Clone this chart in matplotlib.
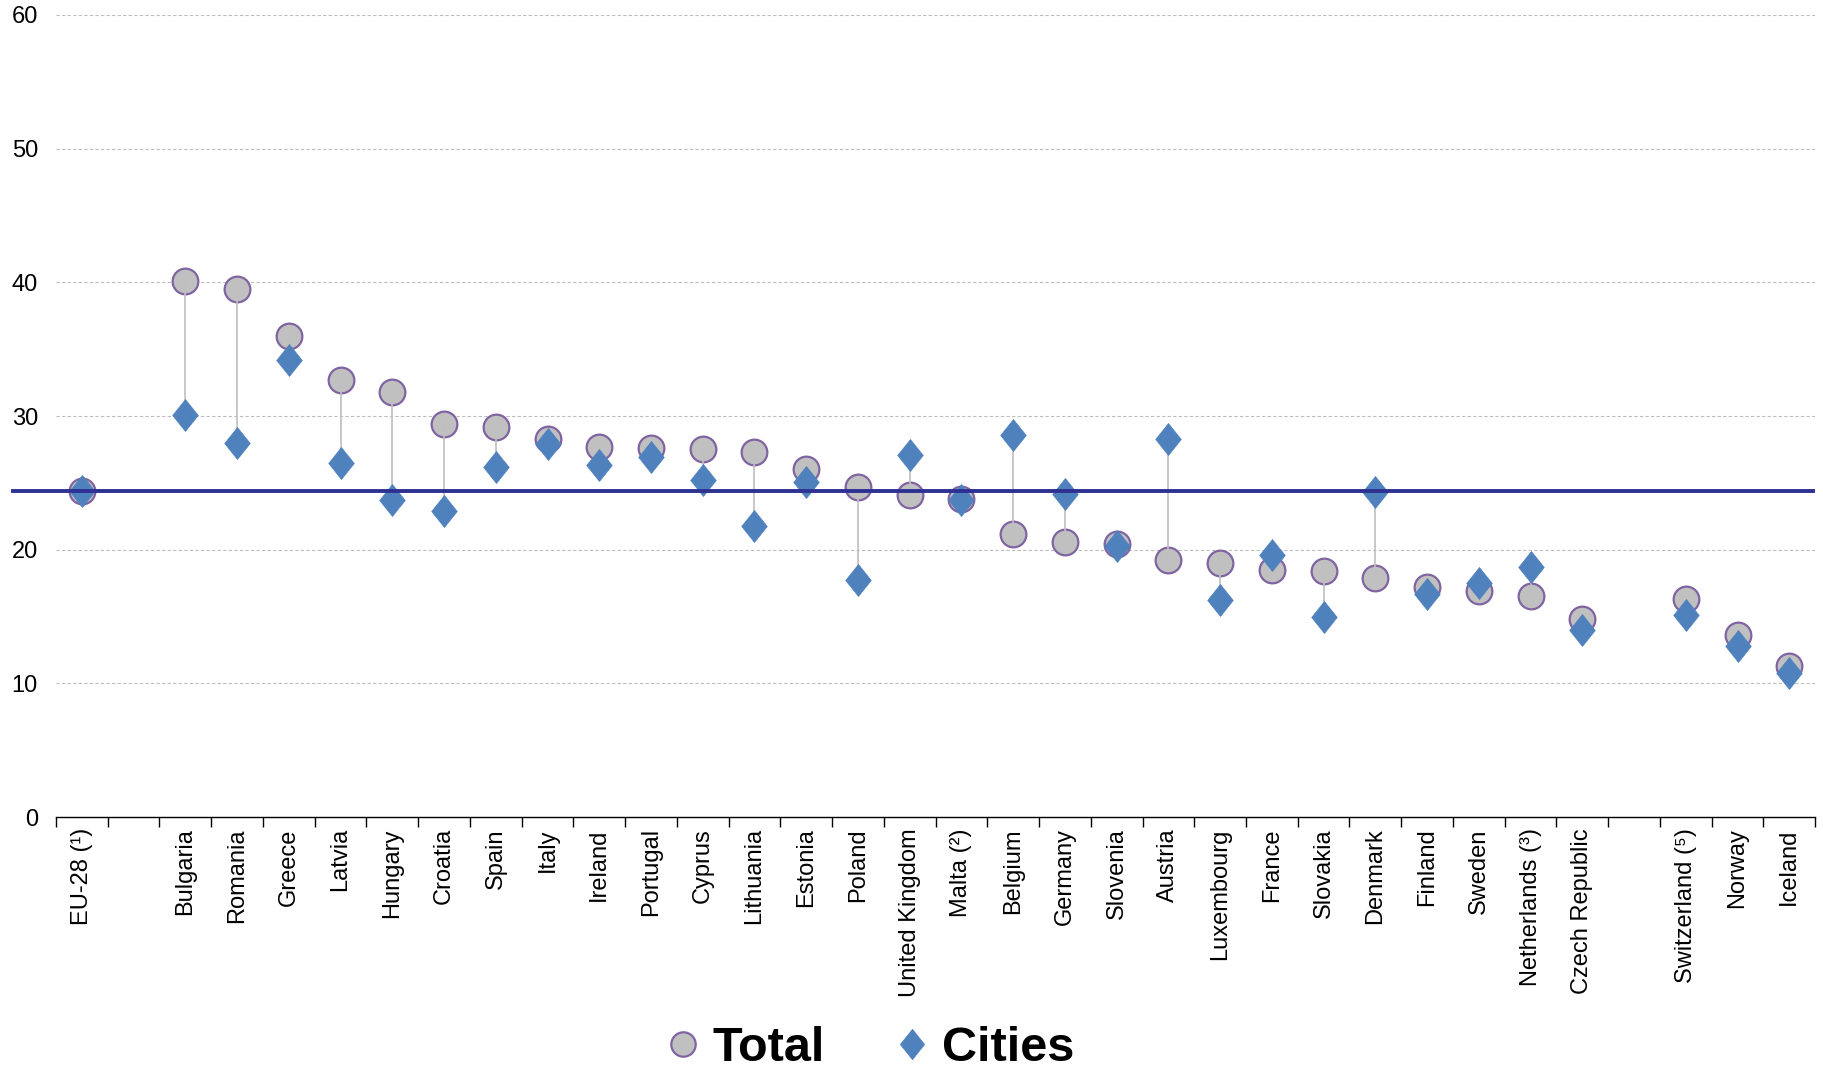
import numpy as np
import matplotlib
matplotlib.use('Agg')
from matplotlib import pyplot as plt

plt.rcParams['font.family'] = ['Liberation Sans', 'DejaVu Sans']

# '' marks an empty slot on the category axis
categories = ['EU-28 (¹)', '', 'Bulgaria', 'Romania', 'Greece', 'Latvia', 'Hungary', 'Croatia',
              'Spain', 'Italy', 'Ireland', 'Portugal', 'Cyprus', 'Lithuania', 'Estonia', 'Poland',
              'United Kingdom', 'Malta (²)', 'Belgium', 'Germany', 'Slovenia', 'Austria',
              'Luxembourg', 'France', 'Slovakia', 'Denmark', 'Finland', 'Sweden',
              'Netherlands (³)', 'Czech Republic', '', 'Switzerland (⁵)', 'Norway', 'Iceland']

total = [24.4, None, 40.1, 39.5, 36.0, 32.7, 31.8, 29.4, 29.2, 28.3, 27.7, 27.6, 27.5, 27.3,
         26.0, 24.7, 24.1, 23.8, 21.2, 20.6, 20.4, 19.2, 19.0, 18.5, 18.4, 17.9, 17.2, 16.9,
         16.5, 14.8, None, 16.3, 13.6, 11.3]

cities = [24.4, None, 30.1, 28.0, 34.2, 26.5, 23.7, 22.9, 26.2, 27.9, 26.3, 26.9, 25.2, 21.8,
          25.1, 17.7, 27.1, 23.7, 28.6, 24.2, 20.3, 28.3, 16.2, 19.6, 15.0, 24.3, 16.7, 17.5,
          18.7, 14.0, None, 15.1, 12.8, 10.8]

eu_average = 24.4

x = np.arange(len(categories))
tot = np.array([np.nan if v is None else v for v in total])
cit = np.array([np.nan if v is None else v for v in cities])
ok = ~np.isnan(tot)

fig = plt.figure(figsize=(18.23, 10.69), dpi=100)
ax = fig.add_axes([0.0307, 0.2357, 0.965, 0.7503])

ax.set_xlim(-0.5, len(categories) - 0.5)
ax.set_ylim(0, 60)

# gridlines
ax.set_yticks(np.arange(0, 61, 10))
for yv in range(10, 61, 10):
    ax.axhline(yv, color='#bdbdbd', lw=0.8, ls=(0, (3, 2)), zorder=0)

# markers
ax.plot(x[ok], tot[ok], ls='none', marker='o', ms=18.5, mfc='#c0c0c0', mec='#8064a2', mew=1.6,
        zorder=2, label='Total')
ax.vlines(x[ok], tot[ok], cit[ok], color='#bfbfbf', lw=1.2, zorder=3)
diamond = [(0, 1), (0.8, 0), (0, -1), (-0.8, 0), (0, 1)]
ax.plot(x[ok], cit[ok], ls='none', marker=diamond, ms=23, mfc='#4f81bd', mec='#4f81bd', mew=0.5,
        zorder=4, label='Cities')

# EU average line (starts a bit left of the axis, like the original)
ax.plot([-1.33, len(categories) - 0.55], [eu_average, eu_average], color='#2e3192', lw=2.8,
        zorder=5, clip_on=False)

# axes styling
for s in ['top', 'right', 'left']:
    ax.spines[s].set_visible(False)
ax.spines['bottom'].set_color('black')
ax.spines['bottom'].set_linewidth(1.0)
ax.tick_params(axis='y', length=0, labelsize=17, pad=13)
ax.set_xticks(x)
ax.set_xticklabels(categories, rotation=90, fontsize=17)
ax.tick_params(axis='x', length=0, pad=8)
ax.set_xticks(np.arange(-0.5, len(categories), 1), minor=True)
ax.tick_params(axis='x', which='minor', length=7, width=1, color='black')

fig.legend(loc='center', bbox_to_anchor=(0.478, 0.019), ncol=2, frameon=False,
           handlelength=0.6, handletextpad=0.3, columnspacing=1.5, markerscale=0.95,
           prop={'weight': 'bold', 'size': 35})

fig.savefig('out.png', dpi=100)
plt.close()
